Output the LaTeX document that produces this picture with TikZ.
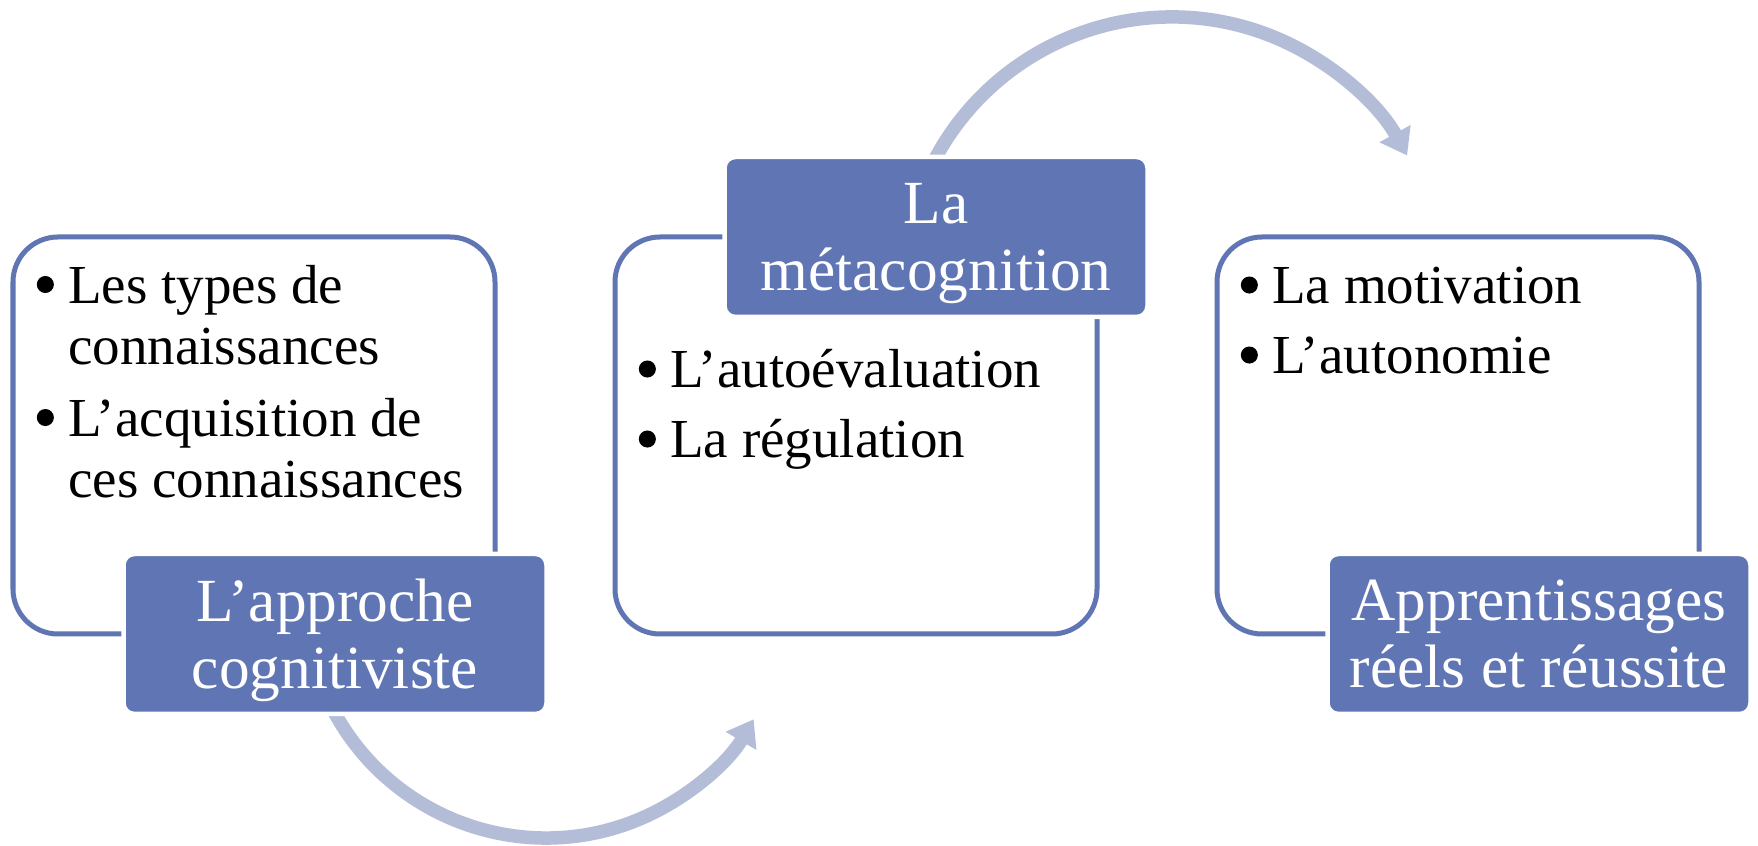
\documentclass[tikz,border=0pt]{standalone}
\usepackage{fontspec}
\setmainfont{Liberation Serif}
\usetikzlibrary{positioning, arrows.meta}

\definecolor{bleu}{RGB}{96,118,180}
\definecolor{pale}{RGB}{180,189,216}
\pgfdeclareradialshading{fond}{\pgfpoint{0bp}{0bp}}{color(0bp)=(white); color(30bp)=(white); color(50bp)=(black!8); color(100bp)=(black!10)}

\newcommand{\puce}{\makebox[0.92cm][c]{\tikz[baseline=-0.345em]\fill[black] (0,0) circle (0.155em);}}
\newcommand{\suite}{\hspace*{0.92cm}}

\begin{document}
\begin{tikzpicture}[
  box/.style = {draw=bleu, fill=white, line width=0.1cm, rounded corners=0.9cm, minimum width=9.64cm, minimum height=7.94cm, inner sep=0pt, outer sep=0pt},
  tag/.style = {draw=white, fill=bleu, line width=0.09cm, rounded corners=0.22cm, minimum width=8.46cm, minimum height=3.2cm, align=center, text depth=0pt, text=white, font=\fontsize{34.9}{38.1}\selectfont},
  list/.style = {align=left, inner sep=0pt, anchor=base west, font=\fontsize{31.3}{35}\selectfont},
  fleche/.style = {draw=pale, line width=0.27cm, -{Triangle[width=0.68cm, length=0.5cm]}}
]
\useasboundingbox (0,0) rectangle (35.16,16.92);
\shade[shading=fond] (0,-20) rectangle (35.16,36.92);

% arrows between the steps
\coordinate (a1) at (6.552,2.943);
\coordinate (a2) at (18.568,13.476);
\draw[fleche] (a1) arc[start angle=205, end angle=329.5, radius=4.82cm];
\draw[fleche] (a2) arc[start angle=155, end angle=29, radius=5.376cm];

% boxes
\node[box] (b1) at (5.08,8.21) {};
\node[box, right=2.4cm of b1] (b2) {};
\node[box, right=2.4cm of b2] (b3) {};

% lists
\node[list] (l1) at ([shift={(0.18,-5.22)}]b1.north west) {\puce Les types de\\ \suite connaissances\\[0.2cm] \puce L'acquisition de\\ \suite ces connaissances};
\node[list] (l2) at ([shift={(0.18,-4.42)}]b2.north west) {\puce L'autoévaluation\\[0.17cm] \puce La régulation};
\node[list] (l3) at ([shift={(0.18,-2.74)}]b3.north west) {\puce La motivation\\[0.17cm] \puce L'autonomie};

% titles
\node[tag] (t1) at ([xshift=1.62cm]b1.south) {L'approche\\cognitiviste};
\node[tag] (t2) at ([xshift=1.6cm]b2.north) {La\\métacognition};
\node[tag] (t3) at ([xshift=1.62cm]b3.south) {Apprentissages\\réels et réussite};
\end{tikzpicture}
\end{document}
